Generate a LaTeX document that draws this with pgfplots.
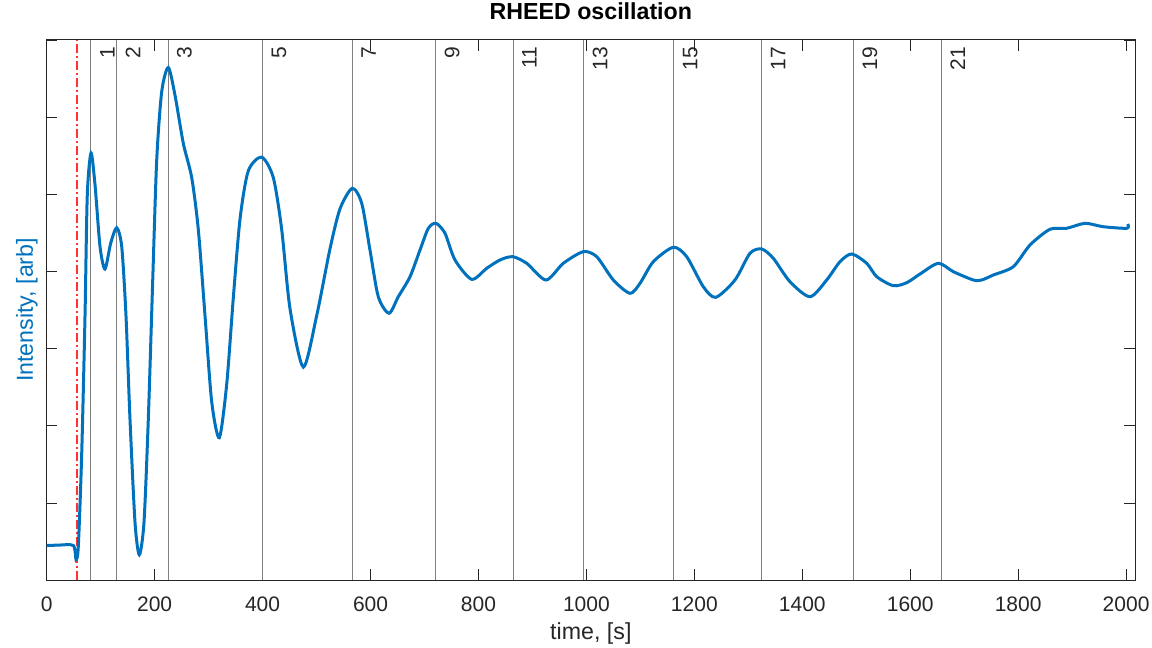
\documentclass[border=0pt]{standalone}
\usepackage{fontspec}
\setmainfont{Liberation Sans}
\usepackage{pgfplots}
\usepackage{pgfplotstable}
\pgfplotsset{compat=1.18}
\definecolor{mblue}{rgb}{0,0.447,0.741}
\definecolor{axgray}{rgb}{0.15,0.15,0.15}
\definecolor{mred}{rgb}{1,0.2,0.2}
\definecolor{vgray}{rgb}{0.5,0.5,0.5}

\pgfplotstableread{
x y
0 0.448
20 0.452
49.3 0.448
54.3 0.269
58.6 0.439
64.9 1.647
71.0 3.435
75.2 5.0
82.1 5.545
89.5 5.135
98.8 4.330
108.0 4.039
118.6 4.374
129.7 4.575
139.0 4.330
146.9 3.435
154.3 2.094
163.6 0.752
171.6 0.327
180.3 0.752
188.3 2.094
196.4 3.883
203.8 5.448
213.1 6.342
225.3 6.656
237.7 6.297
253.1 5.671
268.7 5.225
280.9 4.553
293.3 3.435
305.7 2.317
319.8 1.848
333.5 2.540
345.7 3.658
358.2 4.687
373.5 5.313
398.4 5.492
419.9 5.225
435.4 4.553
450.8 3.525
475.5 2.765
500.3 3.435
524.9 4.30
543.4 4.82
566.2 5.087
583.7 4.892
599.0 4.286
614.4 3.679
634.2 3.464
651.5 3.679
673.2 3.939
691.7 4.286
707.1 4.567
721.3 4.632
738.0 4.503
756.5 4.156
787.5 3.905
815.3 4.048
839.9 4.156
863.4 4.199
889.4 4.113
925.1 3.896
957.2 4.113
994.3 4.264
1019.1 4.199
1049.9 3.896
1080.8 3.723
1099.3 3.853
1124.0 4.134
1161.0 4.321
1185.8 4.199
1216.6 3.809
1239.6 3.671
1275.3 3.896
1303.1 4.243
1324.8 4.299
1346.3 4.178
1377.2 3.874
1414.3 3.679
1445.2 3.896
1469.9 4.134
1491.6 4.234
1519.4 4.113
1537.9 3.939
1568.7 3.822
1593.5 3.861
1618.2 3.974
1652.1 4.113
1679.9 4.004
1717.0 3.896
1732.5 3.896
1754.0 3.961
1791.0 4.069
1822.0 4.351
1859.0 4.555
1890.0 4.568
1923.9 4.632
1957.8 4.588
2001.1 4.568
2003.0 4.623
}\rheed

\pgfplotstableread{
x y
56.8 0
56.8 7.013
}\redline

\begin{document}
\begin{tikzpicture}
\useasboundingbox (-23.35bp,-34bp) rectangle (552.65bp,290bp);
\begin{axis}[
  at={(0,0)}, anchor=south west,
  scale only axis,
  width=544.15bp, height=270bp,
  xmin=0, xmax=2016.5, ymin=0, ymax=7.013,
  xtick={0,200,...,2000},
  ytick={0,1,2,3,4,5,6,7},
  yticklabels={},
  tick align=inside,
  xtick pos=both, ytick pos=both,
  major tick length=5.3bp,
  axis line style={axgray, line width=0.5bp},
  every tick/.style={axgray, line width=0.5bp},
  /pgf/number format/assume math mode=true,
  /pgf/number format/1000 sep={},
  xticklabel style={font=\fontsize{10.5bp}{12bp}\selectfont, text=axgray, anchor=base, inner sep=0pt, yshift=-15.5bp},
  xlabel={time, [s]},
  xlabel style={at={(axis description cs:0.5,-0.111)}, anchor=base, font=\fontsize{11.6bp}{13bp}\selectfont, text=axgray, inner sep=0pt},
  ylabel={Intensity, [arb]},
  ylabel style={at={(axis description cs:-0.0127,0.5)}, anchor=base, rotate=0, font=\fontsize{11.6bp}{13bp}\selectfont, text=mblue, inner sep=0pt},
  title={\bfseries RHEED oscillation},
  title style={at={(axis description cs:0.5,1.0156)}, anchor=base, font=\fontsize{11.6bp}{13bp}\selectfont, inner sep=0pt},
  clip=true,
  cycle list={{vgray}},
]
\pgfplotsinvokeforeach{82,130,225,400,566,721,864,995,1162,1325,1495,1658}{
  \addplot+[vgray, draw=vgray, line width=0.5bp, mark=none] coordinates {(#1,0) (#1,7.013)};
}
\addplot+[mred, draw=mred, line width=0.9bp, mark=none, dash pattern=on 4.5bp off 1.6bp on 0.8bp off 1.6bp] table[x=x,y=y] {\redline};
\addplot+[mblue, draw=mblue, line width=1.5bp, mark=none, smooth, tension=0.45] table[x=x,y=y] {\rheed};
\foreach \xx/\ll in {82/1,130/2,225/3,400/5,566/7,721/9,864/11,995/13,1162/15,1325/17,1495/19,1658/21}{
  \edef\temp{\noexpand\node[rotate=90, anchor=base east, inner sep=0pt, font=\noexpand\fontsize{10.5bp}{12bp}\noexpand\selectfont, text=axgray] at ([xshift=11.8bp,yshift=-3.2bp]axis cs:\xx,7.013) {\ll};}
  \temp
}
\end{axis}
\end{tikzpicture}
\end{document}
